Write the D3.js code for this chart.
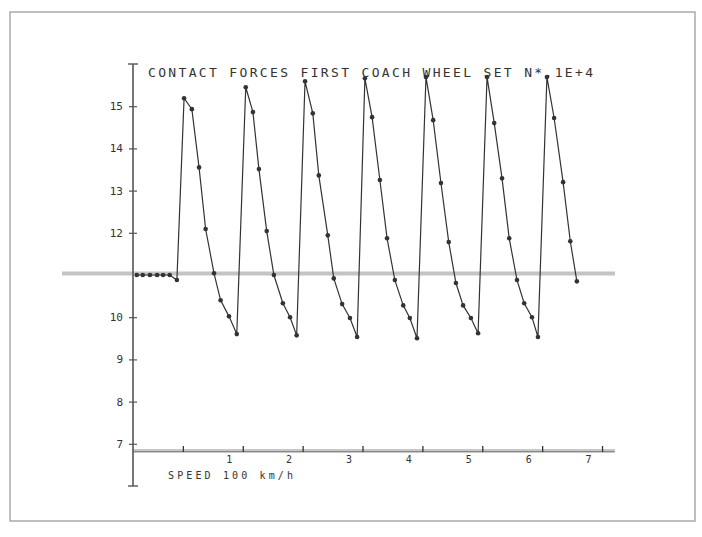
<!DOCTYPE html>
<html>
<head>
<meta charset="utf-8">
<script src="https://cdn.jsdelivr.net/npm/d3@7"></script>
<style>
  body { margin: 0; background: #fff; }
  svg { display: block; }
  text { font-family: "DejaVu Sans Mono", monospace; fill: #333; }
</style>
</head>
<body>
<svg width="702" height="537"></svg>
<script>
// values (x in axis units, force in N * 1E+4)
const xValues = [
  -0.77, -0.67, -0.55, -0.43, -0.33, -0.22, -0.10,
  0.02, 0.15, 0.27, 0.38, 0.52, 0.63, 0.77, 0.90,
  1.05, 1.17, 1.27, 1.40, 1.52, 1.67, 1.79, 1.90,
  2.04, 2.17, 2.27, 2.42, 2.52, 2.66, 2.79, 2.91,
  3.04, 3.16, 3.29, 3.41, 3.54, 3.68, 3.79, 3.91,
  4.06, 4.18, 4.31, 4.44, 4.56, 4.68, 4.81, 4.93,
  5.08, 5.20, 5.33, 5.45, 5.58, 5.70, 5.83, 5.93,
  6.08, 6.20, 6.35, 6.47, 6.58,
];
const forceValues = [
  11.0, 11.0, 11.0, 11.0, 11.0, 11.0, 10.88,
  15.19, 14.93, 13.55, 12.09, 11.04, 10.40, 10.02, 9.60,
  15.45, 14.86, 13.51, 12.04, 11.0, 10.33, 10.0, 9.57,
  15.59, 14.83, 13.36, 11.94, 10.92, 10.31, 9.98, 9.53,
  15.66, 14.74, 13.25, 11.87, 10.88, 10.28, 9.98, 9.50,
  15.69, 14.67, 13.18, 11.78, 10.81, 10.28, 9.98, 9.62,
  15.69, 14.60, 13.29, 11.87, 10.88, 10.33, 10.0, 9.53,
  15.69, 14.72, 13.20, 11.80, 10.85,
];
const yTicks = [7, 8, 9, 10, 12, 13, 14, 15];
const xTicks = [0, 1, 2, 3, 4, 5, 6, 7];
const refLevel = 11;
const title = "CONTACT FORCES FIRST COACH WHEEL SET N*.1E+4";
const xLabel = "SPEED 100 km/h";

const points = xValues.map((x, i) => ({ x, y: forceValues[i] }));

const svg = d3.select("svg");

const x = d3.scaleLinear().domain([-0.833, 7.2]).range([133, 614]);
const y = d3.scaleLinear().domain([6, 16]).range([486, 64]);

// page frame
svg.append("rect")
  .attr("x", 10).attr("y", 12)
  .attr("width", 685).attr("height", 509)
  .attr("fill", "none")
  .attr("stroke", "#aaa")
  .attr("stroke-width", 1.5);

// static load reference band
svg.append("line")
  .attr("x1", 62).attr("x2", 615)
  .attr("y1", y(refLevel) - 1.5).attr("y2", y(refLevel) - 1.5)
  .attr("stroke", "#c4c4c4")
  .attr("stroke-width", 4);

// x axis band
const xAxisY = 451;
svg.append("line")
  .attr("x1", 133).attr("x2", 615)
  .attr("y1", xAxisY).attr("y2", xAxisY)
  .attr("stroke", "#c8c8c8")
  .attr("stroke-width", 4);

const xAxisG = svg.append("g")
  .attr("transform", `translate(0,${xAxisY})`)
  .call(d3.axisBottom(x).tickValues(xTicks).tickSize(0)
    .tickFormat((d) => (d === 0 ? "" : d)));
xAxisG.select(".domain").attr("stroke", "#888").attr("stroke-width", 1);
xAxisG.selectAll(".tick text")
  .attr("dx", -14).attr("y", 5)
  .attr("font-size", 10)
  .style("font-family", '"DejaVu Sans Mono", monospace')
  .attr("fill", "#444");
xAxisG.selectAll(".tick").append("line")
  .attr("y1", -5).attr("y2", 1)
  .attr("stroke", "#333").attr("stroke-width", 1.3);

// y axis
const yAxisG = svg.append("g")
  .attr("transform", "translate(133,0)")
  .call(d3.axisLeft(y).tickValues(yTicks).tickSize(4).tickPadding(6));
yAxisG.select(".domain").remove();
yAxisG.selectAll(".tick line")
  .attr("x1", -4).attr("x2", 4)
  .attr("stroke", "#555").attr("stroke-width", 1.2);
yAxisG.selectAll(".tick text")
  .attr("font-size", 11)
  .style("font-family", '"DejaVu Sans Mono", monospace')
  .attr("fill", "#444");

svg.append("line")
  .attr("x1", 133).attr("x2", 133)
  .attr("y1", y(16)).attr("y2", y(6))
  .attr("stroke", "#555").attr("stroke-width", 1.6);
[16, 6].forEach((v) => {
  svg.append("line")
    .attr("x1", 128).attr("x2", 138)
    .attr("y1", y(v)).attr("y2", y(v))
    .attr("stroke", "#555").attr("stroke-width", 1.4);
});

// force curve
svg.append("path")
  .datum(points)
  .attr("fill", "none")
  .attr("stroke", "#333")
  .attr("stroke-width", 1.2)
  .attr("d", d3.line().x((d) => x(d.x)).y((d) => y(d.y)));

svg.append("g")
  .selectAll("circle")
  .data(points)
  .join("circle")
  .attr("cx", (d) => x(d.x))
  .attr("cy", (d) => y(d.y))
  .attr("r", 2.3)
  .attr("fill", "#333");

// texts
svg.append("text")
  .attr("x", 148).attr("y", 77)
  .attr("font-size", 13)
  .attr("textLength", 445)
  .attr("lengthAdjust", "spacing")
  .text(title);

svg.append("text")
  .attr("x", 168).attr("y", 479)
  .attr("font-size", 10)
  .attr("textLength", 125)
  .attr("lengthAdjust", "spacing")
  .text(xLabel);
</script>
</body>
</html>
